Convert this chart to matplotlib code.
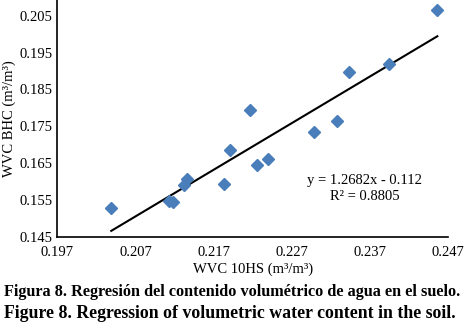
import matplotlib
matplotlib.use("Agg")
import matplotlib.pyplot as plt
import numpy as np

# Data
wvc_10hs = [0.2039, 0.2113, 0.2118, 0.2132, 0.2136, 0.2183, 0.2191, 0.2216,
            0.2225, 0.2240, 0.2298, 0.2328, 0.2343, 0.2394, 0.2456]
wvc_bhc = [0.1528, 0.1547, 0.1543, 0.1591, 0.1607, 0.1593, 0.1685, 0.1793,
           0.1645, 0.1662, 0.1735, 0.1764, 0.1898, 0.1919, 0.2067]
slope = 1.2682
intercept = -0.112
x_ticks = [0.197, 0.207, 0.217, 0.227, 0.237, 0.247]
y_ticks = [0.145, 0.155, 0.165, 0.175, 0.185, 0.195, 0.205]
eq_text = "y = 1.2682x - 0.112"
r2_text = "R² = 0.8805"
caption_es = "Figura 8. Regresión del contenido volumétrico de agua en el suelo."
caption_en = "Figure 8. Regression of volumetric water content in the soil."

plt.rcParams['font.family'] = ['Liberation Serif', 'DejaVu Serif']

W, H = 469, 329
fig = plt.figure(figsize=(W / 100, H / 100), dpi=100)
left, right, bottom, top = 57.3, 448.3, 236.7, 0
ax = fig.add_axes([left / W, 1 - bottom / H, (right - left) / W, (bottom - top) / H])

ax.set_xlim(0.197, 0.247)
ymax = 0.145 + 236.7 / 3680
ax.set_ylim(0.145, ymax)
ax.set_xticks(x_ticks)
ax.set_xticklabels([f"{v:.3f}" for v in x_ticks])
ax.set_yticks(y_ticks)
ax.set_yticklabels([f"{v:.3f}" for v in y_ticks])
ax.tick_params(axis='x', length=0, labelsize=10.5, pad=7)
ax.tick_params(axis='y', length=0, labelsize=10.5, pad=3.5)
for s in ['top', 'right']:
    ax.spines[s].set_visible(False)
for s in ['left', 'bottom']:
    ax.spines[s].set_color('black')
    ax.spines[s].set_linewidth(1.2)

xs = np.array([min(wvc_10hs), max(wvc_10hs)])
ax.plot(xs, slope * xs + intercept, color='black', lw=1.5, zorder=2)
ax.plot(wvc_10hs, wvc_bhc, linestyle='none', marker='D', ms=6.5,
        color='#4A7EBB', mec='#4A7EBB', zorder=3, clip_on=False)

ax.text(0.2363, 0.1604, eq_text, ha='center', va='center', fontsize=10.5)
ax.text(0.2363, 0.1558, r2_text, ha='center', va='center', fontsize=10.5)

ax.set_xlabel("WVC 10HS (m³/m³)", fontsize=10.5, labelpad=2)
ylab = ax.set_ylabel("WVC BHC (m³/m³)", fontsize=10.5)

t1 = fig.text(4 / W, 1 - 291.5 / H, caption_es, ha='left', va='center',
              fontsize=10.5, fontweight='bold')
t2 = fig.text(4 / W, 1 - 313.5 / H, caption_en, ha='left', va='center',
              fontsize=10.5, fontweight='bold')

fig.canvas.draw()
r = fig.canvas.get_renderer()
for t, target in [(t1, 461), (t2, 452)]:
    w = t.get_window_extent(r).width
    t.set_fontsize(t.get_fontsize() * target / w)

# place y label so that its horizontal centre sits at x = 9 px
ax.yaxis.set_label_coords(-(left - 15) / (right - left), 0.5)
fig.canvas.draw()
bb = ylab.get_window_extent(r)
cx = (bb.x0 + bb.x1) / 2
shift = 9 - cx
ax.yaxis.set_label_coords(-(left - 15 - shift) / (right - left), 0.5)

fig.savefig("out.png", dpi=100)
